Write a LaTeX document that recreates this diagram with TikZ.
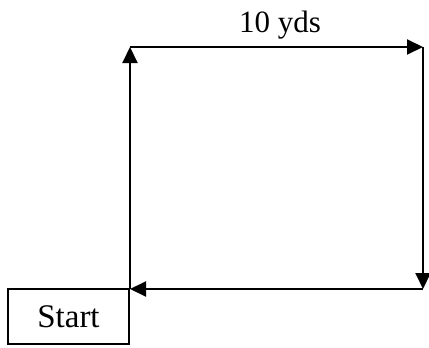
\documentclass[tikz,border=0pt]{standalone}
\usepackage{fontspec}
\setmainfont{Liberation Serif}
\usetikzlibrary{arrows.meta}
\begin{document}
\begin{tikzpicture}[x=1pt,y=-1pt,
  leg/.style={line width=2pt,-{Triangle[length=16pt,width=15pt]}},
  startbox/.style={draw,line width=2pt,minimum width=121pt,minimum height=55pt,inner sep=0pt,font=\fontsize{33}{38}\selectfont},
  lbl/.style={font=\fontsize{31}{36}\selectfont,inner sep=0pt}]
\useasboundingbox (0,0) rectangle (429,348);
\node[startbox] (start) at (68.5,316.5) {Start};
\coordinate (bl) at (130,289);
\coordinate (tl) at (130,47);
\coordinate (tr) at (423,47);
\coordinate (br) at (423,289);
\draw[leg] (bl) -- (tl);
\draw[leg] (tl) -- (tr);
\draw[leg] (tr) -- (br);
\draw[leg] (br) -- (bl);
\node[lbl,anchor=base] (dist) at (280,32) {10 yds};
\end{tikzpicture}
\end{document}
